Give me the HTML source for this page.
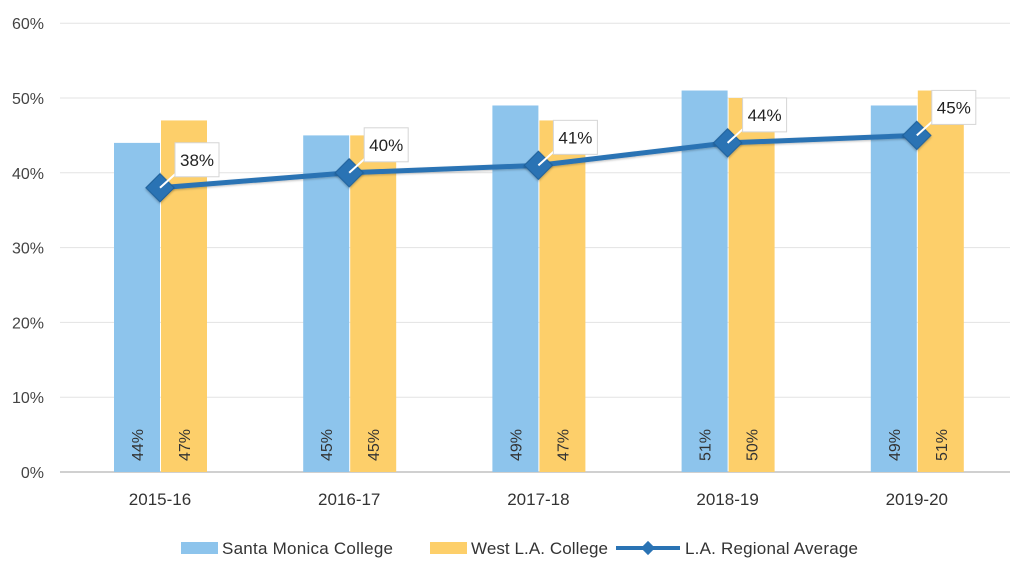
<!DOCTYPE html>
<html><head><meta charset="utf-8"><style>
body{margin:0;background:#fff;}
svg{display:block;font-family:"Liberation Sans",sans-serif;}
</style></head><body>
<svg id="chart" width="1032" height="580">
<defs><filter id="sh" x="-20%" y="-20%" width="140%" height="140%"><feDropShadow dx="1" dy="1" stdDeviation="1" flood-color="#000" flood-opacity="0.25"/></filter></defs>
<g id="grid"></g><g id="bars"></g><g id="line"></g><g id="labels"></g>
<g font-size="17" fill="#333">
<rect x="181" y="542" width="37" height="12" fill="#8dc4ec"/>
<text x="222" y="554" textLength="171">Santa Monica College</text>
<rect x="430" y="542" width="37" height="12" fill="#fdcf6a"/>
<text x="471" y="554" textLength="137">West L.A. College</text>
<line x1="616" y1="548" x2="680" y2="548" stroke="#2a73b4" stroke-width="4"/>
<rect x="643" y="543" width="10" height="10" fill="#2a73b4" transform="rotate(45 648 548)"/>
<text x="685" y="554" textLength="173">L.A. Regional Average</text>
</g>
</svg>
<script>
const categories=["2015-16","2016-17","2017-18","2018-19","2019-20"];
const santaMonica=[44,45,49,51,49];
const westLA=[47,45,47,50,51];
const regional=[38,40,41,44,45];
const yTicks=[0,10,20,30,40,50,60];
const NS="http://www.w3.org/2000/svg";
function y(v){return 472-v*7.48;}
function xc(i){return 160+i*189.2;}
function mk(tag,attrs,parent,text){const e=document.createElementNS(NS,tag);for(const k in attrs)e.setAttribute(k,attrs[k]);if(text!==undefined)e.textContent=text;document.getElementById(parent).appendChild(e);return e;}
yTicks.forEach(t=>{
 const l=mk('line',{x1:60,x2:1010,y1:y(t),y2:y(t),stroke:t===0?'#d0d0d0':'#e3e3e3','stroke-width':t===0?2:1},'grid');
 
 
 const tx=mk('text',{x:44,y:y(t)+6,'text-anchor':'end','font-size':16,fill:'#444'},'grid',t+'%');
 
 
});
categories.forEach((c,i)=>{
 const b1=mk('rect',{x:xc(i)-46,y:y(santaMonica[i]),width:46,height:y(0)-y(santaMonica[i]),fill:'#8dc4ec'},'bars');
 
 
 const b2=mk('rect',{x:xc(i)+1,y:y(westLA[i]),width:46,height:y(0)-y(westLA[i]),fill:'#fdcf6a'},'bars');
 
 
 const t1=mk('text',{x:0,y:0,'text-anchor':'middle','font-size':16,fill:'#333',transform:`translate(${xc(i)-17},445) rotate(-90)`},'labels',santaMonica[i]+'%');
 
 
 const t2=mk('text',{x:0,y:0,'text-anchor':'middle','font-size':16,fill:'#333',transform:`translate(${xc(i)+30},445) rotate(-90)`},'labels',westLA[i]+'%');
 
 
 const xl=mk('text',{x:xc(i),y:505,'text-anchor':'middle','font-size':17,fill:'#333'},'labels',c);
 
 
});
const pts=regional.map((v,i)=>xc(i)+','+y(v)).join(' ');
const pl=mk('polyline',{points:pts,fill:'none',stroke:'#2a73b4','stroke-width':5,filter:'url(#sh)'},'line');


regional.forEach((v,i)=>{
 const px=xc(i),py=y(v);
 const m=mk('rect',{x:px-10,y:py-10,width:20,height:20,fill:'#2a73b4',stroke:'#1f5f99','stroke-width':1,transform:`rotate(45 ${px} ${py})`,filter:'url(#sh)'},'line');
 
 
 const ld=mk('line',{x1:px,y1:py,x2:px+20,y2:py-18,stroke:'#fff','stroke-width':2},'labels');
 
 
 const bx=mk('rect',{x:px+15,y:py-45,width:44,height:34,fill:'#fff',stroke:'#d5d5d5','stroke-width':1},'labels');
 
 
 const tx=mk('text',{x:px+37,y:py-22,'text-anchor':'middle','font-size':17,fill:'#222'},'labels',v+'%');
 
 
});
</script>
</body></html>
